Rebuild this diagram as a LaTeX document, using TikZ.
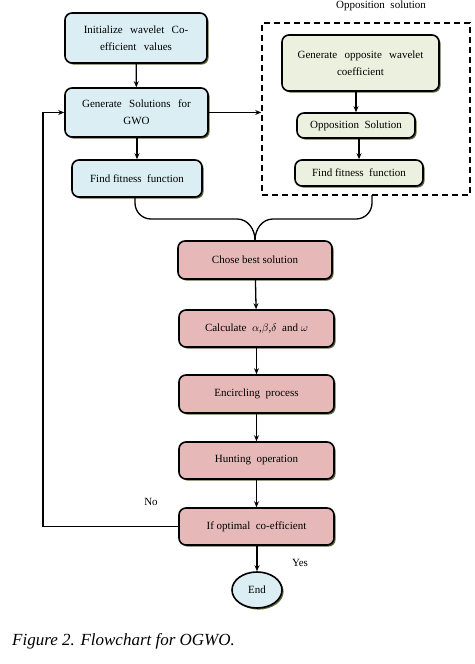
\documentclass[tikz,border=0pt]{standalone}
\usepackage{fontspec}
\setmainfont{Liberation Serif}
\usetikzlibrary{arrows.meta,shadows,positioning,shapes.geometric}
\definecolor{bluefill}{HTML}{DAEEF3}
\definecolor{greenfill}{HTML}{EBF1DE}
\definecolor{pinkfill}{HTML}{E6B9B8}
\definecolor{shadowc}{HTML}{4F5A2A}
\tikzset{
  base/.style={draw=black, line width=1.6pt, rounded corners=7pt, align=center,
    font=\fontsize{11}{17}\selectfont, inner sep=2pt,
    drop shadow={shadow xshift=1.6pt, shadow yshift=-1.6pt, fill=shadowc, opacity=0.9}},
  bluebox/.style={base, fill=bluefill},
  greenbox/.style={base, fill=greenfill},
  pinkbox/.style={base, fill=pinkfill},
  arr/.style={line width=1.3pt, -{Stealth[length=6pt,width=5pt]}},
  conn/.style={line width=1.3pt},
  lbl/.style={font=\fontsize{11}{13}\selectfont, inner sep=0pt}
}
\begin{document}
\begin{tikzpicture}[x=1pt,y=-1pt]
\useasboundingbox (0,0) rectangle (474,664);
% dashed container
\node[draw, line width=1.6pt, dash pattern=on 6pt off 4pt, minimum width=208pt, minimum height=172pt, inner sep=0pt] (opp) at (366,109) {};
\node[lbl] (opplbl) at (381,6) {Opposition\ \ solution};
% left column
\node[bluebox, minimum width=142pt, minimum height=50pt, text width=132pt] (init) at (136,38) {Initialize\ \ wavelet\ \ Co-\\efficient\ \ values};
\node[bluebox, minimum width=143pt, minimum height=49pt, text width=132pt] (gen) at (136.5,112.5) {Generate\ \ Solutions\ \ for\\GWO};
\node[bluebox, minimum width=130pt, minimum height=37pt] (fit1) at (137,178.5) {Find fitness\ \ function};
% right column
\node[greenbox, minimum width=157pt, minimum height=56pt, text width=146pt] (opgen) at (360.5,63) {Generate\ \ opposite\ \ wavelet\\coefficient};
\node[greenbox, minimum width=118pt, minimum height=25pt] (opsol) at (356,125.5) {Opposition\ \ Solution};
\node[greenbox, minimum width=128pt, minimum height=26pt] (fit2) at (359,173) {Find fitness\ \ function};
% center column
\node[pinkbox, minimum width=154pt, minimum height=38pt] (best) at (255,260) {Chose best solution};
\node[pinkbox, minimum width=155pt, minimum height=37pt] (calc) at (256.5,328.5) {Calculate\ \ $\alpha$,$\beta$,$\delta$\ \ and $\omega$};
\node[pinkbox, minimum width=155pt, minimum height=38pt] (enc) at (256.5,394) {Encircling\ \ process};
\node[pinkbox, minimum width=155pt, minimum height=37pt] (hunt) at (256.5,460.5) {Hunting\ \ operation};
\node[pinkbox, minimum width=155pt, minimum height=37pt] (opt) at (256.5,526.5) {If optimal\ \ co-efficient};
\node[base, fill=bluefill, ellipse, rounded corners=0pt, minimum width=50pt, minimum height=36pt, inner sep=0pt] (end) at (257,590) {End};
% labels
\node[lbl] (no) at (151,502) {No};
\node[lbl] (yes) at (300,563) {Yes};
% arrows
\draw[arr] (init) -- (gen);
\draw[arr] (gen.south -| fit1.north) -- (fit1.north);
\draw[arr] (gen.east) -- (gen.east -| opp.west);
\draw[arr] (opgen.south -| opsol.north) -- (opsol.north);
\draw[arr] (opsol.south -| fit2.north) -- (fit2.north);
\draw[arr] (best) -- (calc);
\draw[arr] (calc.south -| enc.north) -- (enc.north);
\draw[arr] (enc) -- (hunt);
\draw[arr] (hunt) -- (opt);
\draw[arr] (opt.south -| end.north) -- (end.north);
\coordinate (lc) at (43,526.5);
\draw[conn, -{Stealth[length=6pt,width=5pt]}] (opt.west) -- (lc) -- (lc |- gen.west) -- (gen.west);
% merging brace
\coordinate (lb) at (135,197);
\coordinate (rb) at (372,195);
\draw[conn] (lb) -- (135,203) to[out=270,in=180] (151,219) -- (237,219) to[out=0,in=90] (best.north);
\draw[conn] (rb) -- (372,203) to[out=270,in=0] (356,219) -- (273,219) to[out=180,in=90] (best.north);
% caption
\node[anchor=west, inner sep=0pt, font=\fontsize{17}{20}\selectfont\itshape] (cap) at (12,641) {Figure 2. Flowchart for OGWO.};
\end{tikzpicture}
\end{document}
